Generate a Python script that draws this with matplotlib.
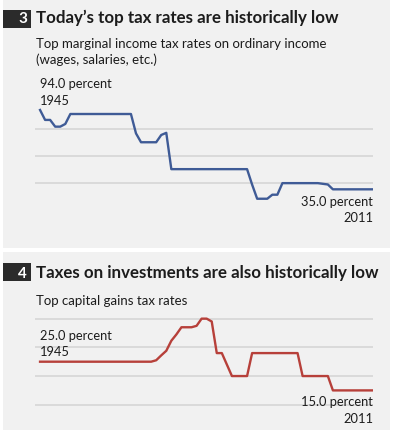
import matplotlib
matplotlib.use("Agg")
import matplotlib.pyplot as plt
import numpy as np
from matplotlib.patches import Rectangle

# ── data ────────────────────────────────────────────────────────────────────
years = list(range(1945, 2012))

income_rate = (
    [94.0, 86.6, 86.6, 81.6, 81.6, 83.6]          # 1945-1950
    + [91.0] * 13                                  # 1951-1963
    + [76.6, 70.0, 70.0, 70.0, 70.0, 75.4, 77.0]  # 1964-1970
    + [50.0] * 16                                  # 1971-1986
    + [38.5, 28.0, 28.0, 28.0, 31.0, 31.0]         # 1987-1992
    + [39.6] * 8                                   # 1993-2000
    + [39.1, 38.6]                                 # 2001-2002
    + [35.0] * 9                                   # 2003-2011
)

capgains_rate = (
    [25.0] * 23                                              # 1945-1967
    + [25.5, 27.2, 28.8, 32.3, 34.5, 37.0, 37.0, 37.0, 37.5]  # 1968-1976
    + [40.0, 40.0, 39.0, 28.0, 28.0, 24.0]                   # 1977-1982
    + [20.0] * 4                                             # 1983-1986
    + [28.0] * 10                                            # 1987-1996
    + [20.0] * 6                                             # 1997-2002
    + [15.0] * 9                                             # 2003-2011
)

income_grid = [40, 60, 80]
capgains_grid = [10, 20, 30, 40]

W, H = 395, 432
BG = "#f1f1f1"
TXT = "#1c1c1c"
GRID = "#d8d8d8"
BLUE = "#3f5b96"
RED = "#b7403a"
FONT = "Lato"

fig = plt.figure(figsize=(W / 100, H / 100), dpi=100)
fig.patch.set_facecolor("white")


def fx(x):
    return x / W


def fy(y):
    return 1 - y / H


def add_box(x0, y0, x1, y1, color):
    fig.patches.append(Rectangle((fx(x0), fy(y1)), (x1 - x0) / W, (y1 - y0) / H,
                                 transform=fig.transFigure, facecolor=color,
                                 edgecolor="none", zorder=-2))


def txt(x, y, s, size, weight="normal", ha="left", color=TXT):
    fig.text(fx(x), fy(y), s, fontsize=size, fontweight=weight, ha=ha,
             va="baseline", color=color, family=FONT)


def line_axes(x0, x1, y_top, y_bot, ylim, xlim):
    ax = fig.add_axes([fx(x0), fy(y_bot), (x1 - x0) / W, (y_bot - y_top) / H])
    ax.set_facecolor("none")
    ax.set_xlim(*xlim)
    ax.set_ylim(*ylim)
    for s in ax.spines.values():
        s.set_visible(False)
    ax.set_xticks([])
    ax.set_yticks([])
    return ax


# panels
add_box(3, 0, 390, 248, BG)
add_box(3, 252, 390, 430, BG)

# ── panel 3 ────────────────────────────────────────────────────────────────
add_box(3, 10, 31, 27.5, "#2b2b2b")
txt(27, 23, "3", 11, "bold", ha="right", color="white")
txt(36, 23, "Today\u2019s top tax rates are historically low", 12.2, "bold")
txt(36, 47.5, "Top marginal income tax rates on ordinary income", 9.5)
txt(36, 64.5, "(wages, salaries, etc.)", 9.5)

# 94 at y=110, 35 at y=189.3 -> 1.344 px per point
ax1 = line_axes(35, 373.3, 101.9, 209.5, (20, 100), (1944.0, 2011))
for g in income_grid:
    ax1.axhline(g, color=GRID, lw=1.3, zorder=1)
ax1.plot(years, income_rate, color=BLUE, lw=1.7, zorder=3,
         solid_joinstyle="round")
txt(40, 88.5, "94.0 percent", 9.3)
txt(40, 105, "1945", 9.3)
txt(373, 205.5, "35.0 percent", 9.3, ha="right")
txt(373, 221.5, "2011", 9.3, ha="right")

# ── panel 4 ────────────────────────────────────────────────────────────────
add_box(3, 263, 31, 281, "#2b2b2b")
txt(27, 277.5, "4", 11, "bold", ha="right", color="white")
txt(36, 278, "Taxes on investments are also historically low", 12.2, "bold")
txt(36, 305, "Top capital gains tax rates", 9.5)

# 25 at y=361.7, 2.87 px per point
ax2 = line_axes(35, 373.3, 304.3, 419.1, (5, 45), (1944.0, 2011))
for g in capgains_grid:
    ax2.axhline(g, color=GRID, lw=1.3, zorder=1)
ax2.plot(years, capgains_rate, color=RED, lw=1.7, zorder=3,
         solid_joinstyle="round")
txt(40, 340, "25.0 percent", 9.3)
txt(40, 356.5, "1945", 9.3)
txt(373, 406.5, "15.0 percent", 9.3, ha="right")
txt(373, 423, "2011", 9.3, ha="right")

fig.savefig("out.png", dpi=100, facecolor=fig.get_facecolor())
